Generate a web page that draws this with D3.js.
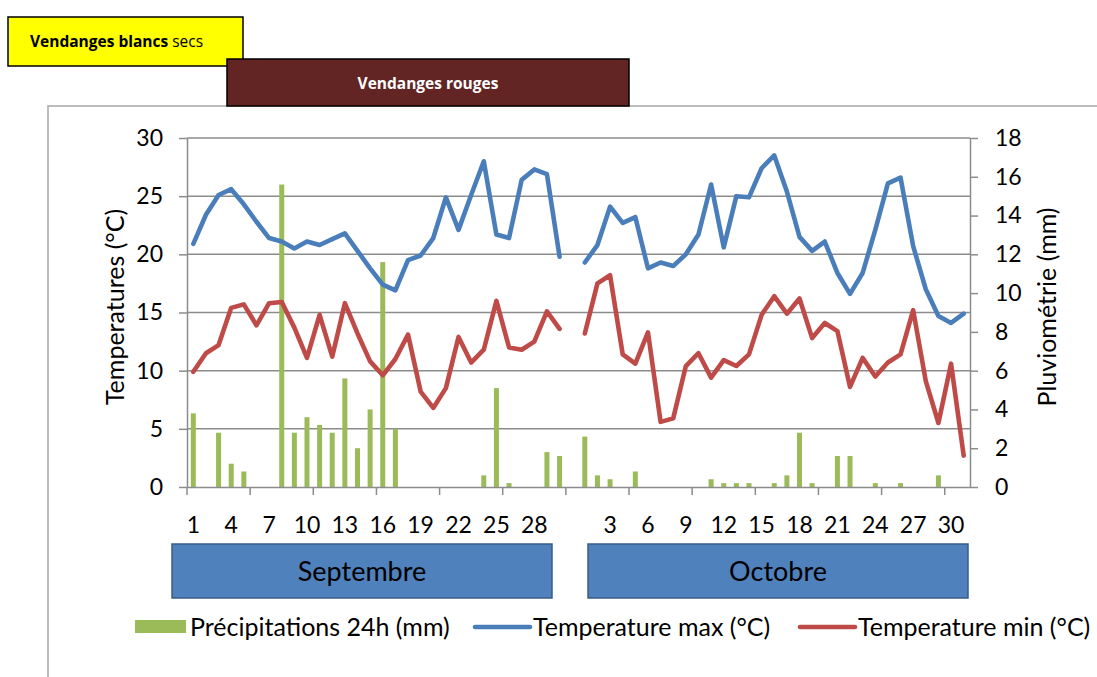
<!DOCTYPE html>
<html lang="fr">
<head>
<meta charset="UTF-8">
<title>Vendanges - températures et pluviométrie</title>
<script src="https://d3js.org/d3.v7.min.js"></script>
<style>
  body { margin: 0; background: #fff; }
  svg { display: block; font-family: 'Lato', 'Open Sans', sans-serif; }
  .grid line { stroke: #8c8c8c; stroke-width: 1.5; }
  .axis path, .axis line { stroke: #8c8c8c; stroke-width: 1.5; }
  .axis text { font-size: 23px; fill: #000; font-family: 'Lato', sans-serif; }
</style>
</head>
<body>
<svg id="chart" width="1097" height="677"></svg>
<script>
// jours
var sepDays = d3.range(1, 31).map(String);
var octDays = d3.range(1, 32).map(String);

// Temperature max (°C)
var maxSep = [20.9, 23.4, 25.1, 25.6, 24.3, 22.8, 21.4, 21.1, 20.5, 21.1, 20.8, 21.3, 21.8, 20.3, 18.8,
              17.4, 16.9, 19.5, 19.9, 21.4, 24.9, 22.1, 25.1, 28.0, 21.7, 21.4, 26.4, 27.3, 26.9, 19.8];
var maxOct = [19.3, 20.8, 24.1, 22.7, 23.2, 18.8, 19.3, 19.0, 20.0, 21.7, 26.0, 20.6, 25.0, 24.9, 27.4, 28.5,
              25.4, 21.5, 20.3, 21.1, 18.4, 16.6, 18.4, 22.1, 26.1, 26.6, 20.7, 17.0, 14.7, 14.1, 14.9];

// Temperature min (°C)
var minSep = [9.9, 11.5, 12.2, 15.4, 15.7, 13.9, 15.8, 15.9, 13.7, 11.1, 14.8, 11.2, 15.8, 13.2, 10.8,
              9.6, 11.0, 13.1, 8.2, 6.8, 8.5, 12.9, 10.7, 11.8, 16.0, 12.0, 11.8, 12.5, 15.1, 13.6];
var minOct = [13.2, 17.5, 18.2, 11.4, 10.6, 13.3, 5.6, 5.9, 10.4, 11.5, 9.4, 10.9, 10.4, 11.4, 14.8, 16.4,
              14.9, 16.2, 12.8, 14.1, 13.4, 8.6, 11.1, 9.5, 10.7, 11.4, 15.2, 9.1, 5.5, 10.6, 2.7];

// Précipitations 24h (mm)
var rainSep = [3.8, 0, 2.8, 1.2, 0.8, 0, 0, 15.6, 2.8, 3.6, 3.2, 2.8, 5.6, 2.0, 4.0,
               11.6, 3.0, 0, 0, 0, 0, 0, 0, 0.6, 5.1, 0.2, 0, 0, 1.8, 1.6];
var rainOct = [2.6, 0.6, 0.4, 0, 0.8, 0, 0, 0, 0, 0, 0.4, 0.2, 0.2, 0.2, 0, 0.2,
               0.6, 2.8, 0.2, 0, 1.6, 1.6, 0, 0.2, 0, 0.2, 0, 0, 0.6, 0, 0];

var tempTicks = [0, 5, 10, 15, 20, 25, 30];
var rainTicks = [0, 2, 4, 6, 8, 10, 12, 14, 16, 18];
var months = ["Septembre", "Octobre"];

// une catégorie vide entre les deux mois
var labels = sepDays.concat([""], octDays);
var keys = labels.map(function(d, i) { return i; });
var tMax = maxSep.concat([null], maxOct);
var tMin = minSep.concat([null], minOct);
var rain = rainSep.concat([null], rainOct);

var svg = d3.select("#chart");

var plotL = 187, plotR = 970, plotT = 138, plotB = 487;

var x = d3.scaleBand().domain(keys).range([plotL, plotR]).padding(0);
var y = d3.scaleLinear().domain([0, 30]).range([plotB, plotT]);
var y2 = d3.scaleLinear().domain([0, 18]).range([plotB, plotT]);

// cadre du graphique
svg.append("path")
  .attr("d", "M48,677 L48,106 L1097,106")
  .attr("fill", "none")
  .attr("stroke", "#a6a6a6")
  .attr("stroke-width", 1.5);

// bandeaux vendanges
var blanc = svg.append("g");
blanc.append("rect").attr("x", 8).attr("y", 17).attr("width", 235).attr("height", 49)
  .attr("fill", "#ffff00").attr("stroke", "#000").attr("stroke-width", 1.5);
var tb = blanc.append("text").attr("x", 30).attr("y", 47)
  .style("font-family", "'Open Sans', sans-serif").style("font-size", "15.5px");
tb.append("tspan").attr("font-weight", "bold").text("Vendanges blancs");
tb.append("tspan").text(" secs");

var rouge = svg.append("g");
rouge.append("rect").attr("x", 227).attr("y", 59).attr("width", 402).attr("height", 47)
  .attr("fill", "#632523").attr("stroke", "#000").attr("stroke-width", 1.5);
rouge.append("text").attr("x", 428).attr("y", 89).attr("text-anchor", "middle")
  .attr("fill", "#fff").attr("font-weight", "bold")
  .style("font-family", "'Open Sans', sans-serif").style("font-size", "15.5px")
  .text("Vendanges rouges");

// grille
svg.append("g").attr("class", "grid")
  .selectAll("line").data(tempTicks.slice(1)).enter().append("line")
  .attr("x1", plotL).attr("x2", plotR)
  .attr("y1", function(d) { return y(d); })
  .attr("y2", function(d) { return y(d); });

// barres
svg.append("g").selectAll("rect")
  .data(rain.map(function(v, i) { return { k: i, v: v }; }).filter(function(d) { return d.v; }))
  .enter().append("rect")
  .attr("x", function(d) { return x(d.k) + x.bandwidth() / 2 - 2.5; })
  .attr("width", 5)
  .attr("y", function(d) { return y2(d.v); })
  .attr("height", function(d) { return plotB - y2(d.v); })
  .attr("fill", "#9bbb59");

// courbes
function drawLine(vals, color) {
  var line = d3.line()
    .defined(function(d) { return d != null; })
    .x(function(d, i) { return x(i) + x.bandwidth() / 2; })
    .y(function(d) { return y(d); });
  svg.append("path").datum(vals)
    .attr("d", line)
    .attr("fill", "none")
    .attr("stroke", color)
    .attr("stroke-width", 4.6)
    .attr("stroke-linejoin", "round")
    .attr("stroke-linecap", "round");
}
drawLine(tMax, "#4a7ebb");
drawLine(tMin, "#be4b48");

// axe gauche
svg.append("g").attr("class", "axis")
  .attr("transform", "translate(" + plotL + ",0)")
  .call(d3.axisLeft(y).tickValues(tempTicks).tickSize(8).tickPadding(16).tickSizeOuter(0));

// axe droit
svg.append("g").attr("class", "axis")
  .attr("transform", "translate(" + plotR + ",0)")
  .call(d3.axisRight(y2).tickValues(rainTicks).tickSize(8).tickPadding(17).tickSizeOuter(0));

// axe des x : repères toutes les 5 catégories, étiquettes toutes les 3
var xAxis = svg.append("g").attr("class", "axis")
  .attr("transform", "translate(0," + plotB + ")")
  .call(d3.axisBottom(x).tickValues([]).tickSizeOuter(0));
xAxis.selectAll(".tickmark").data(d3.range(0, 61, 5)).enter().append("line")
  .attr("class", "tickmark")
  .attr("x1", function(d) { return x(d); }).attr("x2", function(d) { return x(d); })
  .attr("y1", 0).attr("y2", 8);
xAxis.selectAll(".lab").data(keys.filter(function(k) { return k % 3 === 0 && labels[k] !== ""; }))
  .enter().append("text")
  .attr("class", "lab")
  .attr("x", function(d) { return x(d) + x.bandwidth() / 2; })
  .attr("y", 46)
  .attr("text-anchor", "middle")
  .text(function(d) { return labels[d]; });

// titres des axes
svg.append("text")
  .attr("transform", "translate(124,307) rotate(-90)")
  .attr("text-anchor", "middle").style("font-size", "25px")
  .text("Temperatures (°C)");
svg.append("text")
  .attr("transform", "translate(1056,307) rotate(-90)")
  .attr("text-anchor", "middle").style("font-size", "25px")
  .text("Pluviométrie (mm)");

// mois
var mx = [[172, 552], [588, 968]];
var mg = svg.append("g").selectAll("g").data(months).enter().append("g");
mg.append("rect")
  .attr("x", function(d, i) { return mx[i][0]; })
  .attr("width", function(d, i) { return mx[i][1] - mx[i][0]; })
  .attr("y", 544).attr("height", 54)
  .attr("fill", "#4f81bd").attr("stroke", "#385d8a").attr("stroke-width", 1.5);
mg.append("text")
  .attr("x", function(d, i) { return (mx[i][0] + mx[i][1]) / 2; })
  .attr("y", 581).attr("text-anchor", "middle")
  .style("font-size", "27px")
  .text(function(d) { return d; });

// légende
var leg = svg.append("g").style("font-size", "25px");
leg.append("rect").attr("x", 135).attr("y", 620).attr("width", 51).attr("height", 13).attr("fill", "#9bbb59");
leg.append("text").attr("x", 190).attr("y", 636).text("Précipitations 24h (mm)");
leg.append("line").attr("x1", 475).attr("x2", 530).attr("y1", 627).attr("y2", 627)
  .attr("stroke", "#4a7ebb").attr("stroke-width", 4.6).attr("stroke-linecap", "round");
leg.append("text").attr("x", 533).attr("y", 636).text("Temperature max (°C)");
leg.append("line").attr("x1", 800).attr("x2", 855).attr("y1", 627).attr("y2", 627)
  .attr("stroke", "#be4b48").attr("stroke-width", 4.6).attr("stroke-linecap", "round");
leg.append("text").attr("x", 858).attr("y", 636).text("Temperature min (°C)");
</script>
</body>
</html>
